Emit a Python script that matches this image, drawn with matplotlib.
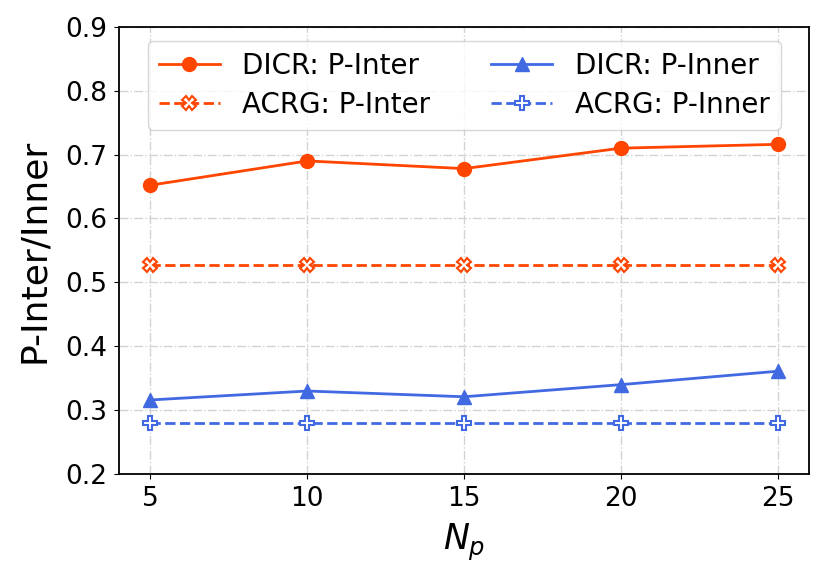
import matplotlib
matplotlib.use('Agg')
import matplotlib.pyplot as plt

# x axis values
n_p = [5, 10, 15, 20, 25]

# y axis values
dicr_inter = [0.652, 0.690, 0.678, 0.710, 0.716]
acrg_inter = [0.527, 0.527, 0.527, 0.527, 0.527]
dicr_inner = [0.316, 0.330, 0.321, 0.340, 0.361]
acrg_inner = [0.280, 0.280, 0.280, 0.280, 0.280]

fig = plt.figure(figsize=(8.31, 5.81), dpi=100)
ax = fig.add_axes([0.143, 0.184, 0.831, 0.770])

ax.plot(n_p, dicr_inter, color='orangered', linestyle='-', linewidth=2,
        marker='o', markersize=10, label='DICR: P-Inter')
ax.plot(n_p, acrg_inter, color='orangered', linestyle='--', linewidth=2,
        marker='X', markersize=10, markerfacecolor='white', markeredgewidth=1.5,
        label='ACRG: P-Inter')
ax.plot(n_p, dicr_inner, color='royalblue', linestyle='-', linewidth=2,
        marker='^', markersize=10, label='DICR: P-Inner')
ax.plot(n_p, acrg_inner, color='royalblue', linestyle='--', linewidth=2,
        marker='P', markersize=10, markerfacecolor='white', markeredgewidth=1.5,
        label='ACRG: P-Inner')

ax.set_ylim(0.2, 0.9)
ax.set_xticks(n_p)
ax.set_yticks([0.2, 0.3, 0.4, 0.5, 0.6, 0.7, 0.8, 0.9])
ax.tick_params(labelsize=19, pad=5)
ax.grid(True, linestyle='-.', color='lightgray', linewidth=1)
ax.set_axisbelow(True)
for s in ax.spines.values():
    s.set_linewidth(1.3)

ax.set_xlabel('$N_p$', fontsize=25, labelpad=7)
ax.set_ylabel('P-Inter/Inner', fontsize=26, labelpad=10)

ax.legend(loc='upper center', ncol=2, fontsize=20, columnspacing=2.2,
          handlelength=2.2, labelspacing=0.4)

fig.savefig('out.png', dpi=100)
